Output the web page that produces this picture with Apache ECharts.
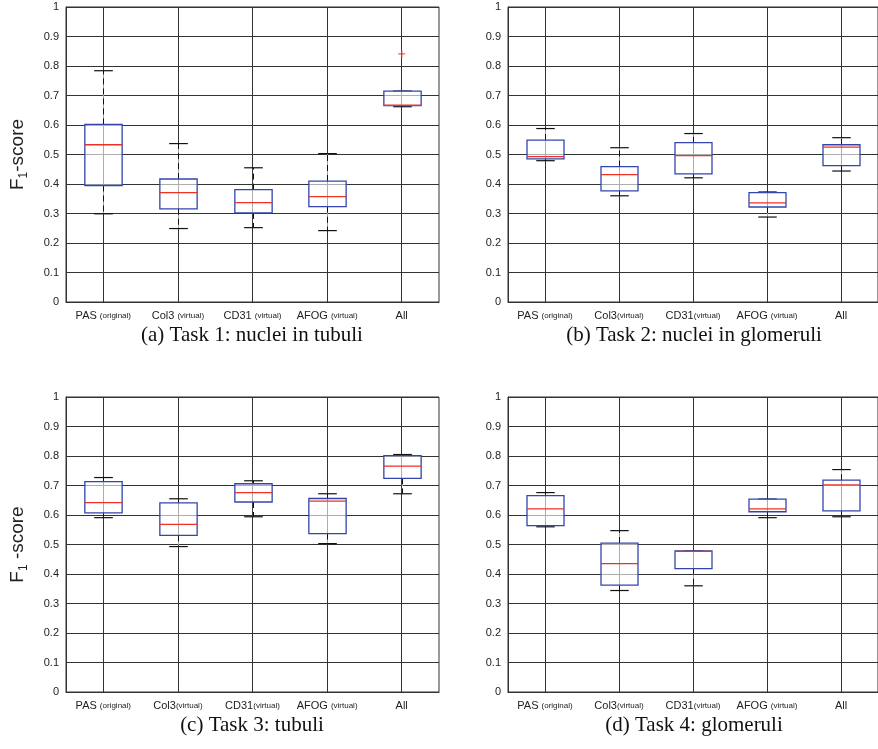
<!DOCTYPE html>
<html>
<head>
<meta charset="utf-8">
<script src="https://cdn.jsdelivr.net/npm/echarts@6/dist/echarts.min.js"></script>
<style>
  html, body { margin: 0; padding: 0; background: #fff; }
  #main { width: 878px; height: 749px; }
</style>
</head>
<body>
<div id="main"></div>
<script>
// category labels per panel
const cats1 = ['PAS (original)', 'Col3 (virtual)', 'CD31 (virtual)', 'AFOG (virtual)', 'All']
const cats2 = ['PAS (original)', 'Col3(virtual)', 'CD31(virtual)', 'AFOG (virtual)', 'All']
const cats3 = ['PAS (original)', 'Col3(virtual)', 'CD31(virtual)', 'AFOG (virtual)', 'All']
const cats4 = ['PAS (original)', 'Col3(virtual)', 'CD31(virtual)', 'AFOG (virtual)', 'All']

// [lower whisker, q1, median, q3, upper whisker]
const task1 = [
  [0.299, 0.395, 0.533, 0.602, 0.784],
  [0.249, 0.316, 0.371, 0.417, 0.537],
  [0.252, 0.302, 0.337, 0.381, 0.455],
  [0.242, 0.323, 0.357, 0.410, 0.503],
  [0.662, 0.666, 0.667, 0.715, 0.715]
]
const task2 = [
  [0.479, 0.485, 0.493, 0.549, 0.588],
  [0.360, 0.377, 0.432, 0.459, 0.523],
  [0.421, 0.434, 0.496, 0.540, 0.571],
  [0.288, 0.322, 0.336, 0.371, 0.373],
  [0.444, 0.462, 0.525, 0.533, 0.557]
]
const task3 = [
  [0.591, 0.607, 0.642, 0.713, 0.727],
  [0.493, 0.531, 0.568, 0.641, 0.655],
  [0.594, 0.644, 0.676, 0.706, 0.716],
  [0.503, 0.537, 0.647, 0.656, 0.672],
  [0.672, 0.724, 0.766, 0.801, 0.805]
]
const task4 = [
  [0.560, 0.564, 0.621, 0.666, 0.676],
  [0.344, 0.362, 0.435, 0.505, 0.547],
  [0.360, 0.418, 0.477, 0.478, 0.478],
  [0.591, 0.611, 0.621, 0.654, 0.654],
  [0.594, 0.614, 0.702, 0.718, 0.754]
]
// outliers [category index, value]
const outliers1 = [[4, 0.841]]

const chart = echarts.init(document.getElementById('main'))

const grids = [
  { left: 66, top: 7, width: 373, height: 295 },
  { left: 508, top: 7, width: 373, height: 295 },
  { left: 66, top: 397, width: 373, height: 295 },
  { left: 508, top: 397, width: 373, height: 295 }
]

function renderBox(params, api) {
  const x = api.value(0)
  const lo = api.coord([x, api.value(1)])
  const q1 = api.coord([x, api.value(2)])
  const md = api.coord([x, api.value(3)])
  const q3 = api.coord([x, api.value(4)])
  const hi = api.coord([x, api.value(5)])
  const bw = api.size([1, 0])[0]
  const cx = Math.round(lo[0]) + 0.5
  const half = bw * 0.25
  const cap = bw * 0.125
  const line = (x1, y1, x2, y2, style) => ({ type: 'line', shape: { x1, y1, x2, y2 }, style })
  const wUnder = { stroke: 'rgba(255,255,255,0.55)', lineWidth: 1.2 }
  const wDash = { stroke: '#111', lineWidth: 1, lineDash: [6, 4] }
  const kids = []
  kids.push(line(cx, q3[1], cx, hi[1], wUnder))
  kids.push(line(cx, q3[1], cx, hi[1], wDash))
  kids.push(line(cx, q1[1], cx, lo[1], wUnder))
  kids.push(line(cx, q1[1], cx, lo[1], wDash))
  kids.push(line(cx - cap, hi[1], cx + cap, hi[1], { stroke: '#111', lineWidth: 1.2 }))
  kids.push(line(cx - cap, lo[1], cx + cap, lo[1], { stroke: '#111', lineWidth: 1.2 }))
  kids.push({
    type: 'rect',
    shape: { x: cx - half, y: q3[1], width: half * 2, height: q1[1] - q3[1] },
    style: { fill: 'rgba(255,255,255,0.6)', stroke: '#3345ad', lineWidth: 1.3 }
  })
  kids.push(line(cx - half, md[1], cx + half, md[1], { stroke: '#ee3124', lineWidth: 1.3 }))
  return { type: 'group', children: kids }
}

function catLabel(v) {
  const i = v.indexOf('(')
  if (i < 0) return '{m|' + v + '}'
  return '{m|' + v.slice(0, i) + '}{s|' + v.slice(i) + '}'
}

function xAxisFor(idx, cats) {
  return {
    type: 'category', gridIndex: idx, data: cats,
    axisLine: { lineStyle: { color: '#333', width: 1 } },
    axisTick: { show: true, inside: true, alignWithLabel: true, length: 3, lineStyle: { color: '#333' } },
    splitLine: { show: true, alignWithLabel: true, lineStyle: { color: '#333', width: 1 } },
    axisLabel: {
      margin: 8, formatter: catLabel, interval: 0,
      rich: {
        m: { fontFamily: 'Liberation Sans', fontSize: 11, color: '#222' },
        s: { fontFamily: 'Liberation Sans', fontSize: 8, color: '#222' }
      }
    }
  }
}

function yAxisFor(idx, name) {
  const ax = {
    type: 'value', gridIndex: idx, min: 0, max: 1, interval: 0.1,
    axisLine: { show: true, lineStyle: { color: '#333', width: 1 } },
    axisTick: { show: true, inside: true, length: 3, lineStyle: { color: '#333' } },
    splitLine: { show: true, lineStyle: { color: '#333', width: 1 } },
    axisLabel: {
      margin: 7, fontFamily: 'Liberation Sans', fontSize: 11, color: '#222',
      formatter: v => String(parseFloat(v.toFixed(1)))
    }
  }
  if (name) {
    ax.name = name
    ax.nameLocation = 'middle'
    ax.nameGap = 36
    ax.nameRotate = 90
    ax.nameTextStyle = {
      rich: {
        a: { fontFamily: 'Liberation Sans', fontSize: 19, color: '#222', lineHeight: 24 },
        b: { fontFamily: 'Liberation Sans', fontSize: 12, color: '#222', lineHeight: 24, verticalAlign: 'bottom', padding: [8, 0, 0, 0] }
      }
    }
  }
  return ax
}

function boxSeries(idx, task) {
  return {
    type: 'custom', xAxisIndex: idx, yAxisIndex: idx,
    renderItem: renderBox,
    encode: { x: 0, y: [1, 2, 3, 4, 5] },
    data: task.map((r, i) => [i].concat(r)),
    z: 3
  }
}

const captions = [
  ['(a) Task 1: nuclei in tubuli', 252, 325],
  ['(b) Task 2: nuclei in glomeruli', 694, 325],
  ['(c) Task 3: tubuli', 252, 715],
  ['(d) Task 4: glomeruli', 694, 715]
]

const option = {
  backgroundColor: '#fff',
  animation: false,
  title: captions.map(c => ({
    text: c[0], left: c[1], top: c[2], textAlign: 'center', padding: 0,
    textStyle: { fontFamily: 'Liberation Serif', fontSize: 21, fontWeight: 'normal', color: '#111' }
  })),
  grid: grids.map(g => Object.assign({ show: true, borderColor: '#333', borderWidth: 1, backgroundColor: 'transparent' }, g)),
  xAxis: [xAxisFor(0, cats1), xAxisFor(1, cats2), xAxisFor(2, cats3), xAxisFor(3, cats4)],
  yAxis: [
    yAxisFor(0, '{a|F}{b|1}{a|-score}'),
    yAxisFor(1, null),
    yAxisFor(2, '{a|F}{b|1}{a| -score}'),
    yAxisFor(3, null)
  ],
  series: [
    boxSeries(0, task1),
    boxSeries(1, task2),
    boxSeries(2, task3),
    boxSeries(3, task4),
    {
      type: 'scatter', xAxisIndex: 0, yAxisIndex: 0,
      symbol: 'path://M4,0H6V4H10V6H6V10H4V6H0V4H4Z',
      symbolSize: 7,
      itemStyle: { color: '#ee3124' },
      data: outliers1,
      z: 4
    }
  ]
}

chart.setOption(option)
</script>
</body>
</html>
